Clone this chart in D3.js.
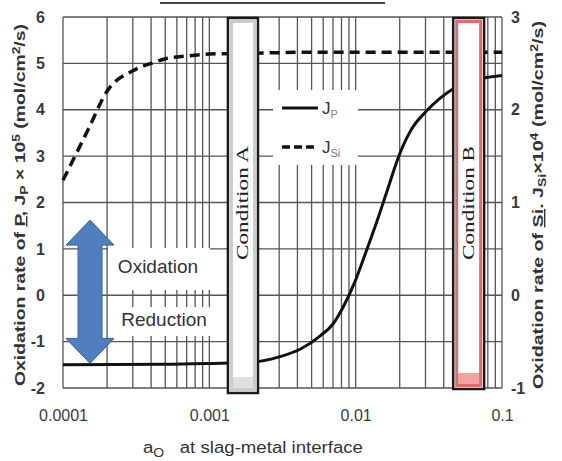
<!DOCTYPE html>
<html>
<head>
<meta charset="utf-8">
<script src="https://cdn.jsdelivr.net/npm/d3@7"></script>
<style>
  body { margin: 0; background: #fff; }
  svg { display: block; font-family: Arial, "Liberation Sans", sans-serif; }
</style>
</head>
<body>
<div id="chart"></div>
<script>
// a_O values and rates
const jpA = [0.0001, 0.0005, 0.001, 0.002, 0.003, 0.0042, 0.0057, 0.007, 0.0082, 0.0099, 0.0112, 0.014, 0.0164, 0.02, 0.0243, 0.03, 0.0378, 0.048, 0.074, 0.1];
const jpV = [-1.5, -1.49, -1.47, -1.44, -1.33, -1.16, -0.88, -0.62, -0.26, 0.3, 0.75, 1.6, 2.25, 3.05, 3.6, 3.95, 4.25, 4.48, 4.68, 4.74];
const jsiA = [0.0001, 0.00015, 0.0002, 0.0003, 0.0004, 0.0005, 0.0007, 0.001, 0.002, 0.005, 0.01, 0.1];
const jsiV = [1.24, 1.8, 2.2, 2.42, 2.5, 2.55, 2.58, 2.6, 2.61, 2.62, 2.62, 2.62];
const xTicks = [0.0001, 0.001, 0.01, 0.1];
const xTickLabels = ["0.0001", "0.001", "0.01", "0.1"];
const leftTicks = [-2, -1, 0, 1, 2, 3, 4, 5, 6];
const rightTicks = [-1, 0, 1, 2, 3];
const conditionA = [0.00134, 0.00215];
const conditionB = [0.0464, 0.0755];

const width = 562, height = 461;
const margin = { top: 17, right: 60, bottom: 73, left: 63 };

const svg = d3.select("#chart").append("svg")
  .attr("width", width)
  .attr("height", height);

const x = d3.scaleLog().domain([0.0001, 0.1]).range([margin.left, width - margin.right]);
const yL = d3.scaleLinear().domain([-2, 6]).range([height - margin.bottom, margin.top]);
const yR = d3.scaleLinear().domain([-1, 3]).range([height - margin.bottom, margin.top]);

// cut-off line at the top
svg.append("line")
  .attr("x1", 160).attr("x2", 385).attr("y1", 3).attr("y2", 3)
  .attr("stroke", "#444").attr("stroke-width", 2);

// grid
const grid = svg.append("g").attr("stroke", "#555").attr("stroke-width", 1.3);
grid.selectAll(".v").data(x.ticks()).join("line")
  .attr("x1", d => x(d)).attr("x2", d => x(d))
  .attr("y1", yL(6)).attr("y2", yL(-2));
grid.selectAll(".h").data(leftTicks).join("line")
  .attr("x1", x(0.0001)).attr("x2", x(0.1))
  .attr("y1", d => yL(d)).attr("y2", d => yL(d));

// white patches behind the in-plot labels
svg.append("rect").attr("x", 273).attr("y", 90).attr("width", 85).attr("height", 75).attr("fill", "#fff");
svg.append("rect").attr("x", 108).attr("y", 248).attr("width", 102).attr("height", 42).attr("fill", "#fff");
svg.append("rect").attr("x", 108).attr("y", 307).attr("width", 106).attr("height", 29).attr("fill", "#fff");

// curves
const lineP = d3.line()
  .x((d, i) => x(jpA[i]))
  .y(d => yL(d))
  .curve(d3.curveMonotoneX);
svg.append("path")
  .attr("d", lineP(jpV))
  .attr("fill", "none").attr("stroke", "#111").attr("stroke-width", 3);

const lineSi = d3.line()
  .x((d, i) => x(jsiA[i]))
  .y(d => yR(d))
  .curve(d3.curveMonotoneX);
svg.append("path")
  .attr("d", lineSi(jsiV))
  .attr("fill", "none").attr("stroke", "#111").attr("stroke-width", 3.5)
  .attr("stroke-dasharray", "10,6");

// condition boxes
function conditionBox(range, inner, band, label, bottomExtra) {
  const x0 = x(range[0]), x1 = x(range[1]);
  const top = yL(6) + 1, bottom = yL(-2) + bottomExtra;
  const g = svg.append("g");
  g.append("rect").attr("x", x0).attr("y", top).attr("width", x1 - x0).attr("height", bottom - top)
    .attr("fill", "#fff");
  g.append("rect").attr("x", x0 + 3).attr("y", bottom - 16).attr("width", x1 - x0 - 6).attr("height", 13)
    .attr("fill", band);
  g.append("rect").attr("x", x0 + 3.5).attr("y", top + 3.5).attr("width", x1 - x0 - 7).attr("height", bottom - top - 7)
    .attr("fill", "none").attr("stroke", inner).attr("stroke-width", 3);
  g.append("rect").attr("x", x0).attr("y", top).attr("width", x1 - x0).attr("height", bottom - top)
    .attr("fill", "none").attr("stroke", "#1a1a1a").attr("stroke-width", 2.5);
  const cx = (x0 + x1) / 2 + 5, cy = 203;
  g.append("text")
    .attr("transform", `translate(${cx},${cy}) rotate(-90)`)
    .attr("text-anchor", "middle")
    .attr("font-family", "'Liberation Serif', 'DejaVu Serif', serif")
    .attr("font-size", 17)
    .attr("fill", "#222")
    .attr("textLength", 114)
    .attr("lengthAdjust", "spacingAndGlyphs")
    .text(label);
}
conditionBox(conditionA, "#cccccc", "#e0e0e0", "Condition A", 5);
conditionBox(conditionB, "#e46a6a", "#f3a2a2", "Condition B", 1);

// double arrow
const ax = x(0.000153), aTop = yL(1.62), aBot = yL(-1.47);
const hw = 24, sw = 12, hl = 25;
const arrowPts = [
  [ax, aTop], [ax + hw, aTop + hl], [ax + sw, aTop + hl], [ax + sw, aBot - hl], [ax + hw, aBot - hl],
  [ax, aBot], [ax - hw, aBot - hl], [ax - sw, aBot - hl], [ax - sw, aTop + hl], [ax - hw, aTop + hl]
];
svg.append("path")
  .attr("d", "M" + arrowPts.join("L") + "Z")
  .attr("fill", "#4f7fc0").attr("stroke", "#3a62a0").attr("stroke-width", 1);

svg.append("text").attr("x", 158).attr("y", 273).attr("text-anchor", "middle")
  .attr("font-size", 19).attr("fill", "#333").text("Oxidation");
svg.append("text").attr("x", 164).attr("y", 326).attr("text-anchor", "middle")
  .attr("font-size", 19).attr("fill", "#333").text("Reduction");

// legend
const legend = svg.append("g");
legend.append("line").attr("x1", 282).attr("x2", 318).attr("y1", 108).attr("y2", 108)
  .attr("stroke", "#111").attr("stroke-width", 3);
legend.append("line").attr("x1", 282).attr("x2", 318).attr("y1", 147).attr("y2", 147)
  .attr("stroke", "#111").attr("stroke-width", 3.5).attr("stroke-dasharray", "8,4");
const lp = legend.append("text").attr("x", 322).attr("y", 114).attr("font-size", 17).attr("fill", "#333");
lp.append("tspan").text("J");
lp.append("tspan").attr("dy", 4).attr("font-size", 11).attr("fill", "#a88040").text("P");
const ls = legend.append("text").attr("x", 322).attr("y", 153).attr("font-size", 17).attr("fill", "#333");
ls.append("tspan").text("J");
ls.append("tspan").attr("dy", 4).attr("font-size", 11).attr("fill", "#8a6a9a").text("Si");

// axes
const intFmt = d => String(d);
const axL = svg.append("g").attr("transform", `translate(${x(0.0001)},0)`)
  .call(d3.axisLeft(yL).tickValues(leftTicks).tickSize(0).tickPadding(18).tickFormat(intFmt));
const axR = svg.append("g").attr("transform", `translate(${x(0.1)},0)`)
  .call(d3.axisRight(yR).tickValues(rightTicks).tickSize(0).tickPadding(9).tickFormat(intFmt));
const axB = svg.append("g").attr("transform", `translate(0,${yL(-2)})`)
  .call(d3.axisBottom(x).tickValues(xTicks).tickSize(0).tickPadding(22).tickFormat((d, i) => xTickLabels[i]));
[axL, axR].forEach(a => {
  a.select(".domain").remove();
  a.selectAll("text").attr("font-size", 16).attr("font-weight", "bold").attr("fill", "#3a3a3a")
    .attr("font-family", "Arial, 'Liberation Sans', sans-serif");
});
axB.select(".domain").remove();
axB.selectAll("text").attr("font-size", 16).attr("fill", "#3a3a3a")
  .attr("font-family", "Arial, 'Liberation Sans', sans-serif");

// axis titles
const tl = svg.append("text")
  .attr("transform", `translate(25,205) rotate(-90)`)
  .attr("text-anchor", "middle").attr("font-size", 14).attr("font-weight", "bold").attr("fill", "#333")
  .attr("textLength", 362).attr("lengthAdjust", "spacingAndGlyphs");
tl.append("tspan").text("Oxidation rate of ");
tl.append("tspan").attr("text-decoration", "underline").text("P");
tl.append("tspan").text(", J");
tl.append("tspan").attr("dy", 3).attr("font-size", 10).text("P");
tl.append("tspan").attr("dy", -3).text(" × 10");
tl.append("tspan").attr("dy", -5).attr("font-size", 10).text("5");
tl.append("tspan").attr("dy", 5).text(" (mol/cm");
tl.append("tspan").attr("dy", -5).attr("font-size", 10).text("2");
tl.append("tspan").attr("dy", 5).text("/s)");

const tr = svg.append("text")
  .attr("transform", `translate(543,205) rotate(-90)`)
  .attr("text-anchor", "middle").attr("font-size", 14).attr("font-weight", "bold").attr("fill", "#333")
  .attr("textLength", 368).attr("lengthAdjust", "spacingAndGlyphs");
tr.append("tspan").text("Oxidation rate of ");
tr.append("tspan").attr("text-decoration", "underline").text("Si");
tr.append("tspan").text(". J");
tr.append("tspan").attr("dy", 3).attr("font-size", 10).text("Si");
tr.append("tspan").attr("dy", -3).text("×10");
tr.append("tspan").attr("dy", -5).attr("font-size", 10).text("4");
tr.append("tspan").attr("dy", 5).text(" (mol/cm");
tr.append("tspan").attr("dy", -5).attr("font-size", 10).text("2");
tr.append("tspan").attr("dy", 5).text("/s)");

const tb = svg.append("text").attr("x", 143).attr("y", 453).attr("font-size", 16).attr("fill", "#333")
  .attr("textLength", 220).attr("lengthAdjust", "spacingAndGlyphs");
tb.append("tspan").text("a");
tb.append("tspan").attr("dy", 4).attr("font-size", 12).text("O");
tb.append("tspan").attr("dy", -4).text("\u00a0\u00a0\u00a0at slag-metal interface");
</script>
</body>
</html>
